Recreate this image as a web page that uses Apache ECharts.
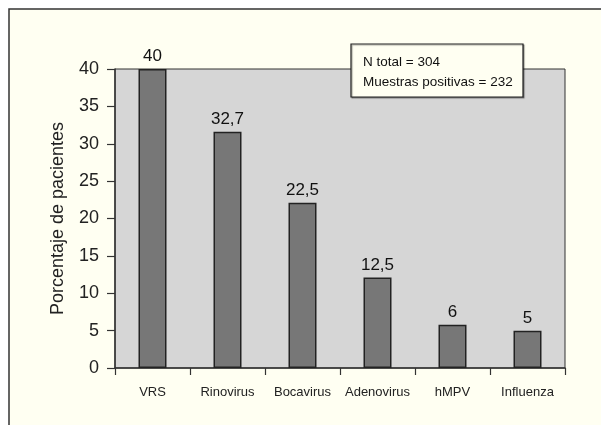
<!DOCTYPE html>
<html style="height: 100%">
<head>
<meta charset="utf-8">
<script src="https://cdn.jsdelivr.net/npm/echarts@6/dist/echarts.min.js"></script>
</head>
<body style="height: 100%; margin: 0; background: #ffffff">
<div id="container" style="width: 601px; height: 425px"></div>
<script type="text/javascript">
var categories = ['VRS', 'Rinovirus', 'Bocavirus', 'Adenovirus', 'hMPV', 'Influenza'];
// bar heights as drawn, and the labels printed above them
var barValues = [40, 31.6, 22.1, 12.1, 5.8, 5];
var labelTexts = ['40', '32,7', '22,5', '12,5', '6', '5'];
var yTicks = [0, 5, 10, 15, 20, 25, 30, 35, 40];
var noteLines = ['N total = 304', 'Muestras positivas = 232'];

var font = '"Liberation Sans", Arial, sans-serif';
var myChart = echarts.init(document.getElementById('container'));

var option = {
	animation: false,
	backgroundColor: '#ffffff',
	textStyle: { fontFamily: font },
	graphic: [
		{
			type: 'rect',
			z: -10,
			shape: { x: 9, y: 9, width: 600, height: 420 },
			style: { fill: '#fffff2', stroke: null }
		},
		{
			type: 'polyline',
			z: -9,
			shape: { points: [[9, 425], [9, 9], [601, 9]] },
			style: { stroke: '#333', lineWidth: 1.5, fill: null }
		},
		{
			type: 'group',
			z: 100,
			children: [
				{
					type: 'rect',
					shape: { x: 351, y: 44, width: 172, height: 53 },
					style: { fill: '#fffff2', stroke: '#222', lineWidth: 1.2,
						shadowColor: 'rgba(0,0,0,0.35)', shadowOffsetX: 1, shadowOffsetY: 1, shadowBlur: 1 }
				},
				{
					type: 'text',
					x: 363, y: 52,
					style: { text: noteLines.join('\n'), font: '13.5px ' + font, fill: '#111', lineHeight: 20 }
				}
			]
		}
	],
	grid: {
		left: 115, right: 36, top: 69, bottom: 57,
		show: true, backgroundColor: '#d6d6d6', borderColor: '#333', borderWidth: 1
	},
	xAxis: {
		type: 'category',
		data: categories,
		boundaryGap: true,
		axisLine: { lineStyle: { color: '#333', width: 1.5 } },
		axisTick: { show: true, length: 7, lineStyle: { color: '#333', width: 1.2 } },
		axisLabel: { color: '#222', fontSize: 13, margin: 18, interval: 0 }
	},
	yAxis: {
		type: 'value',
		min: 0, max: 40, interval: 5,
		name: 'Porcentaje de pacientes',
		nameLocation: 'middle',
		nameGap: 48,
		nameTextStyle: { fontSize: 18, color: '#222' },
		splitLine: { show: false },
		axisLine: { show: true, lineStyle: { color: '#333', width: 1.5 } },
		axisTick: { show: true, length: 8, lineStyle: { color: '#333', width: 1.2 } },
		axisLabel: {
			color: '#222', fontSize: 18, margin: 16,
			formatter: function (v) { return yTicks.indexOf(v) >= 0 ? String(v) : ''; }
		}
	},
	series: [{
		type: 'bar',
		data: barValues,
		barWidth: 28,
		itemStyle: { color: '#777777', borderColor: '#222', borderWidth: 1.5 },
		label: {
			show: true,
			position: 'top',
			distance: 4,
			fontSize: 17,
			color: '#111',
			formatter: function (p) { return labelTexts[p.dataIndex]; }
		}
	}]
};

myChart.setOption(option);
</script>
</body>
</html>
